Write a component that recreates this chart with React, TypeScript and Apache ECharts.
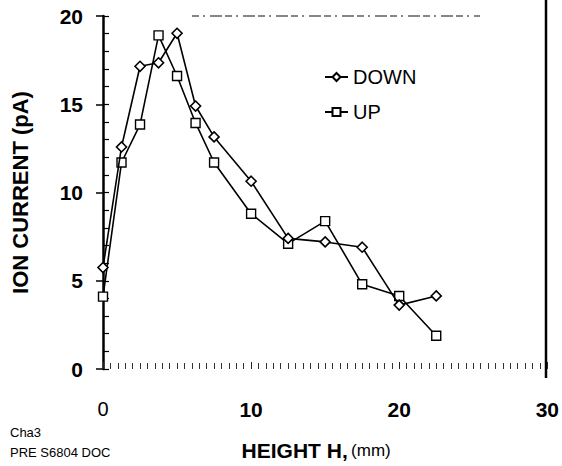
import React, { useEffect, useRef } from "react";
import * as echarts from "echarts";

const xValues = [0, 1.25, 2.5, 3.75, 5, 6.25, 7.5, 10, 12.5, 15, 17.5, 20, 22.5];
const downValues = [5.75, 12.58, 17.15, 17.35, 19.02, 14.9, 13.15, 10.64, 7.4, 7.2, 6.9, 3.62, 4.14];
const upValues = [4.1, 11.7, 13.85, 18.9, 16.6, 13.94, 11.7, 8.8, 7.1, 8.38, 4.8, 4.14, 1.88];
const xTicks = { min: 0, max: 30, interval: 10 };
const yTicks = { min: 0, max: 20, interval: 5 };
const seriesNames = ["DOWN", "UP"];
const footnotes = ["Cha3", "PRE S6804 DOC"];

export default function App() {
  const ref = useRef<HTMLDivElement>(null);
  useEffect(() => {
    if (!ref.current) return;
    const chart = echarts.init(ref.current, null, { renderer: "svg" });
    const font = "'Liberation Sans', Arial, Helvetica, sans-serif";
    const toPairs = (ys: number[]) => xValues.map((x, i) => [x, ys[i]]);
    chart.setOption({
      animation: false,
      backgroundColor: "#ffffff",
      grid: { left: 103, right: 9, top: 16, bottom: 96, containLabel: false },
      legend: {
        orient: "vertical",
        left: 319,
        top: 61,
        itemWidth: 23,
        itemHeight: 10,
        itemGap: 13,
        data: seriesNames,
        textStyle: { fontFamily: font, fontSize: 20, color: "#000", lineHeight: 22 },
      },
      xAxis: {
        type: "value",
        min: xTicks.min,
        max: xTicks.max,
        interval: xTicks.interval,
        axisLine: { show: false },
        axisTick: { show: true, inside: true, length: 7, lineStyle: { color: "#222", width: 1 } },
        minorTick: { show: true, splitNumber: 20, length: 6, lineStyle: { color: "#333", width: 1 } },
        splitLine: { show: false },
        axisLabel: {
          margin: 30,
          formatter: (v: number) => (v === 0 ? "{n|0}" : "{b|" + v + "}"),
          rich: {
            n: { fontFamily: font, fontSize: 20, color: "#000", fontWeight: "normal" },
            b: { fontFamily: font, fontSize: 21, color: "#000", fontWeight: "bold" },
          },
        },
        name: "{b|HEIGHT H,} {n|(mm)}",
        nameLocation: "middle",
        nameGap: 71,
        nameTextStyle: {
          padding: [0, 18, 0, 0],
          rich: {
            b: { fontFamily: font, fontSize: 21, fontWeight: "bold", color: "#000" },
            n: { fontFamily: font, fontSize: 17, fontWeight: "normal", color: "#000" },
          },
        },
      },
      yAxis: [
        {
          type: "value",
          min: yTicks.min,
          max: yTicks.max,
          interval: yTicks.interval,
          axisLine: { show: true, lineStyle: { color: "#000", width: 2.5 } },
          axisTick: { show: true, inside: false, length: 7, lineStyle: { color: "#000", width: 1.5 } },
          splitLine: { show: false },
          axisLabel: {
            margin: 20,
            fontFamily: font,
            fontSize: 21,
            fontWeight: "bold",
            color: "#000",
          },
          name: "ION CURRENT (pA)",
          nameLocation: "middle",
          nameGap: 72,
          nameRotate: 90,
          nameTextStyle: { fontFamily: font, fontSize: 22, fontWeight: "bold", color: "#000" },
        },
        {
          type: "value",
          position: "left",
          min: yTicks.min,
          max: yTicks.max,
          interval: 1,
          axisLine: { show: false },
          axisTick: { show: true, inside: true, length: 6, lineStyle: { color: "#000", width: 1.2 } },
          axisLabel: { show: false },
          splitLine: { show: false },
        },
      ],
      series: [
        {
          name: seriesNames[0],
          type: "line",
          data: toPairs(downValues),
          symbol: "diamond",
          symbolSize: [10, 10],
          lineStyle: { color: "#000", width: 1.6 },
          itemStyle: { color: "#fff", borderColor: "#000", borderWidth: 1.6 },
          z: 3,
        },
        {
          name: seriesNames[1],
          type: "line",
          data: toPairs(upValues),
          symbol: "rect",
          symbolSize: 9,
          lineStyle: { color: "#000", width: 1.6 },
          itemStyle: { color: "#fff", borderColor: "#000", borderWidth: 1.4 },
          z: 2,
        },
      ],
      graphic: [
        {
          type: "line",
          shape: { x1: 546, y1: 0, x2: 546, y2: 378 },
          style: { stroke: "#000", lineWidth: 2.5 },
        },
        {
          type: "line",
          shape: { x1: 192, y1: 16, x2: 480, y2: 16 },
          style: { stroke: "#111", lineWidth: 1.2, lineDash: [7, 4, 2, 5, 12, 3] },
        },
        {
          type: "text",
          left: 10,
          top: 426,
          style: { text: footnotes[0], fontFamily: font, fontSize: 13, fill: "#000" },
        },
        {
          type: "text",
          left: 10,
          top: 446,
          style: { text: footnotes[1], fontFamily: font, fontSize: 13, fill: "#000" },
        },
      ],
    });
    return () => chart.dispose();
  }, []);
  return (
    <div
      ref={ref}
      style={{ position: "absolute", left: 0, top: 0, width: 562, height: 466 }}
    />
  );
}
